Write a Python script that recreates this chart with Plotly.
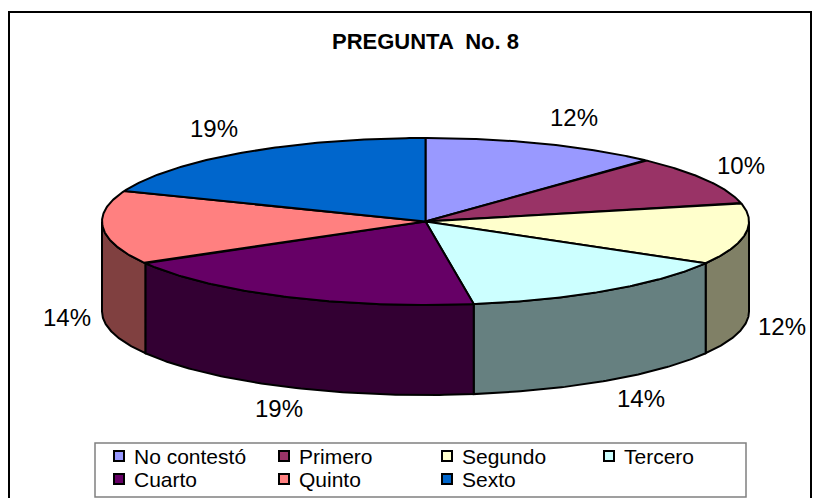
import numpy as np
import plotly.graph_objects as go

categories = ["No contestó", "Primero", "Segundo", "Tercero", "Cuarto", "Quinto", "Sexto"]
counts = [5, 4, 5, 6, 8, 6, 8]
labels = ["12%", "10%", "12%", "14%", "19%", "14%", "19%"]
top_colors = ["#9999FF", "#993366", "#FFFFCC", "#CCFFFF", "#660066", "#FF8080", "#0066CC"]
wall_colors = ["#4D4D80", "#4D1A33", "#808066", "#668080", "#330033", "#804040", "#003366"]

# pixel layout of the projected pie
CX, CY, RX, RY, DEPTH = 425.5, 221.5, 323.5, 83.5, 90
LABEL_X = [574, 741, 782, 641, 279, 67, 214]
LABEL_Y = [117, 165, 326, 398, 408, 317, 128]
# pixel layout of the key
KEY_COLS = [119, 284, 447, 609]
KEY_ROWS = [456, 479]
KEY_TEXT_GAP = 13


def rim(t, drop=0.0):
    return CX + RX * np.sin(t), CY - RY * np.cos(t) + drop


fig = go.Figure()
edges = np.radians(np.concatenate([[0], np.cumsum(counts)]) / sum(counts) * 360)

# outer walls (front half only)
for i in range(len(counts)):
    a, b = max(edges[i], np.pi / 2), min(edges[i + 1], 3 * np.pi / 2)
    if b <= a:
        continue
    t = np.linspace(a, b, 80)
    xt, yt = rim(t)
    xb, yb = rim(t[::-1], DEPTH)
    fig.add_trace(go.Scatter(
        x=np.r_[xt, xb, xt[0]], y=np.r_[yt, yb, yt[0]], mode="lines", fill="toself",
        fillcolor=wall_colors[i], line=dict(color="black", width=2),
        hoverinfo="skip", showlegend=False))

# top faces
for i in range(len(counts)):
    t = np.linspace(edges[i], edges[i + 1], 120)
    x, y = rim(t)
    fig.add_trace(go.Scatter(
        x=np.r_[CX, x, CX], y=np.r_[CY, y, CY], mode="lines", fill="toself",
        fillcolor=top_colors[i], line=dict(color="black", width=2),
        hoverinfo="skip", showlegend=False))

# key: swatch and text on a 4-column grid
for i, (name, c) in enumerate(zip(categories, top_colors)):
    kx, ky = KEY_COLS[i % 4], KEY_ROWS[i // 4]
    fig.add_trace(go.Scatter(
        x=[kx], y=[ky], mode="markers", name=name, hoverinfo="name", showlegend=False,
        marker=dict(symbol="square", size=10, color=c, line=dict(color="black", width=2))))
    fig.add_annotation(x=kx + KEY_TEXT_GAP, y=ky, text=name, showarrow=False,
                       xanchor="left", yanchor="middle",
                       font=dict(family="Liberation Sans", size=21, color="black"))

for txt, x, y in zip(labels, LABEL_X, LABEL_Y):
    fig.add_annotation(x=x, y=y, text=txt, showarrow=False, xanchor="center", yanchor="middle",
                       font=dict(family="Liberation Sans", size=24, color="black"))

fig.add_annotation(x=425, y=41, text="<b>PREGUNTA  No. 8</b>", showarrow=False,
                   font=dict(family="Liberation Sans", size=22, color="black"))

fig.update_layout(
    width=820, height=498, autosize=False,
    margin=dict(l=0, r=0, t=0, b=0),
    paper_bgcolor="white", plot_bgcolor="white",
    xaxis=dict(range=[0, 820], visible=False, fixedrange=True),
    yaxis=dict(range=[498, 0], visible=False, fixedrange=True),
    font=dict(family="Liberation Sans", color="black"),
    showlegend=False,
    shapes=[
        dict(type="rect", xref="x", yref="y", x0=9, x1=811, y0=12, y1=520,
             line=dict(color="black", width=2), fillcolor="rgba(0,0,0,0)", layer="below"),
        dict(type="rect", xref="x", yref="y", x0=95, x1=746, y0=443, y1=497,
             line=dict(color="#808080", width=1.5), fillcolor="white", layer="below"),
    ],
)
fig.write_html("out.html", config=dict(displayModeBar=False),
               post_script="document.body.style.margin='0';")
